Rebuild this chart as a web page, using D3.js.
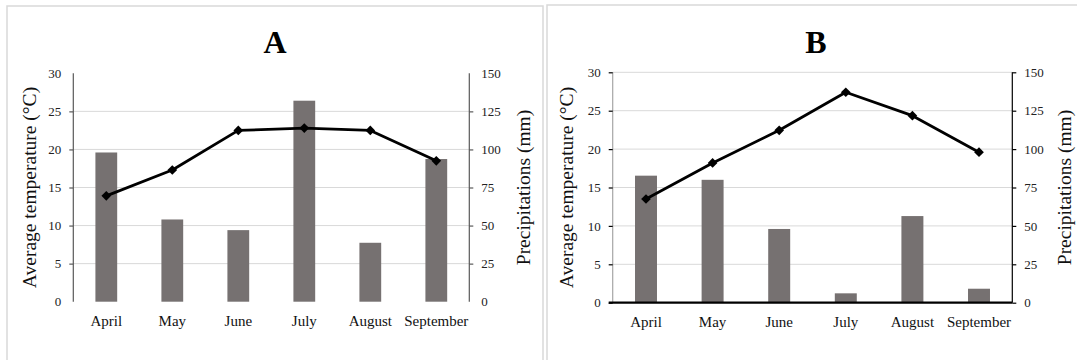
<!DOCTYPE html>
<html><head><meta charset="utf-8">
<script src="https://cdn.jsdelivr.net/npm/d3@7"></script>
<style>
html,body{margin:0;padding:0;background:#fff;}
svg, svg text{font-family:"Liberation Serif","Times New Roman",Times,"Tinos","Nimbus Roman","DejaVu Serif",serif !important;}
</style></head>
<body><svg id="c" width="1077" height="360"></svg>
<script>
const months = ["April","May","June","July","August","September"];
const tempA = [13.9, 17.3, 22.5, 22.8, 22.5, 18.5];
const precipA = [98, 54, 47, 132, 38.7, 93.7];
const tempB = [13.5, 18.2, 22.45, 27.4, 24.35, 19.6];
const precipB = [82.7, 80, 48, 6.1, 56.4, 9.1];
const tempTicks = [0,5,10,15,20,25,30];
const precipTicks = [0,25,50,75,100,125,150];
const titles = ["A","B"];
const yTitleLeft = "Average temperature (°C)";
const yTitleRight = "Precipitations (mm)";

const svg = d3.select("#c");

const panels = [
  {title:titles[0], temp:tempA, precip:precipA, box:[7,6,536,370], x0:73.3, x1:469.3, y0:301.7, y1:73.3,
   leftTitleX:29, rightTitleX:523, titleX:275, styleB:false},
  {title:titles[1], temp:tempB, precip:precipB, box:[547,5,560,370], x0:612.7, x1:1012.3, y0:302.7, y1:72.3,
   leftTitleX:566, rightTitleX:1064, titleX:816, styleB:true}
];

panels.forEach(p => {
  const g = svg.append("g");
  g.append("rect").attr("x",p.box[0]).attr("y",p.box[1]).attr("width",p.box[2]).attr("height",p.box[3])
    .attr("fill","#fff").attr("stroke","#d9d9d9").attr("stroke-width",1.5);

  const x = d3.scaleBand().domain(months).range([p.x0,p.x1]).padding(0);
  const yT = d3.scaleLinear().domain([0,30]).range([p.y0,p.y1]);
  const yP = d3.scaleLinear().domain([0,150]).range([p.y0,p.y1]);

  const gridVals = p.styleB ? tempTicks.filter(v=>v>0) : tempTicks.filter(v=>v>0 && v<30);
  g.append("g").selectAll("line").data(gridVals).join("line")
    .attr("x1",p.x0).attr("x2",p.x1).attr("y1",d=>yT(d)).attr("y2",d=>yT(d))
    .attr("stroke","#d9d9d9").attr("stroke-width",1);

  const bw = x.bandwidth()*0.33;
  g.append("g").selectAll("rect").data(p.precip).join("rect")
    .attr("x",(d,i)=>x(months[i])+x.bandwidth()/2-bw/2)
    .attr("y",d=>yP(d)).attr("width",bw).attr("height",d=>yP(0)-yP(d))
    .attr("fill","#767171");

  const la = g.append("g").attr("transform",`translate(${p.x0},0)`)
    .call(d3.axisLeft(yT).tickValues(tempTicks).tickSize(4).tickPadding(8).tickFormat(d3.format("d")));
  la.attr("font-family",null);
  la.select(".domain").attr("stroke", p.styleB ? "#a6a6a6" : "#595959").attr("stroke-width",1.2)
    .attr("d",`M0,${p.y0}V${p.y1}`);
  la.selectAll(".tick line").attr("stroke", p.styleB ? "#000" : "#595959").attr("stroke-width",1.2)
    .attr("display",d=> (!p.styleB && (d===0||d===30)) ? "none" : null);
  la.selectAll(".tick text").attr("font-size",13).attr("fill","#222");

  const ra = g.append("g").attr("transform",`translate(${p.x1},0)`)
    .call(d3.axisRight(yP).tickValues(precipTicks).tickSize(4).tickPadding(8).tickFormat(d3.format("d")));
  ra.attr("font-family",null);
  ra.select(".domain").attr("stroke", p.styleB ? "#000" : "#595959").attr("stroke-width",1.2)
    .attr("d",`M0,${p.y0}V${p.y1}`);
  ra.selectAll(".tick line").attr("stroke", p.styleB ? "#000" : "#595959").attr("stroke-width",1.2)
    .attr("display",d=> (!p.styleB && (d===0||d===150)) ? "none" : null);
  ra.selectAll(".tick text").attr("font-size",13).attr("fill","#222");

  const ba = g.append("g").attr("transform",`translate(0,${p.y0})`)
    .call(d3.axisBottom(x).tickSize(0).tickPadding(13.5));
  ba.attr("font-family",null);
  if (p.styleB) {
    ba.select(".domain").attr("stroke","#000").attr("stroke-width",2.2).attr("d",`M${p.x0-4},0H${p.x1}`);
  } else {
    ba.select(".domain").remove();
  }
  ba.selectAll(".tick text").attr("font-size",15).attr("fill","#111");

  const line = d3.line().x((d,i)=>x(months[i])+x.bandwidth()/2).y(d=>yT(d));
  g.append("path").datum(p.temp).attr("d",line).attr("fill","none").attr("stroke","#000").attr("stroke-width",2.8)
    .attr("stroke-linejoin","round");
  g.append("g").selectAll("path").data(p.temp).join("path")
    .attr("d",d3.symbol().type(d3.symbolDiamond2).size(60))
    .attr("transform",(d,i)=>`translate(${x(months[i])+x.bandwidth()/2},${yT(d)})`)
    .attr("fill","#000");

  g.append("text").attr("x",p.titleX).attr("y",52.7).attr("text-anchor","middle")
    .attr("font-size",32).attr("font-weight","bold").attr("fill","#000").text(p.title);
  const cy = (p.y0+p.y1)/2;
  g.append("text").attr("transform",`translate(${p.leftTitleX},${cy}) rotate(-90)`)
    .attr("text-anchor","middle").attr("dy","0.35em").attr("font-size",19.5).attr("fill","#111").text(yTitleLeft);
  g.append("text").attr("transform",`translate(${p.rightTitleX},${cy}) rotate(-90)`)
    .attr("text-anchor","middle").attr("dy","0.35em").attr("font-size",19.5).attr("fill","#111").text(yTitleRight);
});
</script></body></html>
